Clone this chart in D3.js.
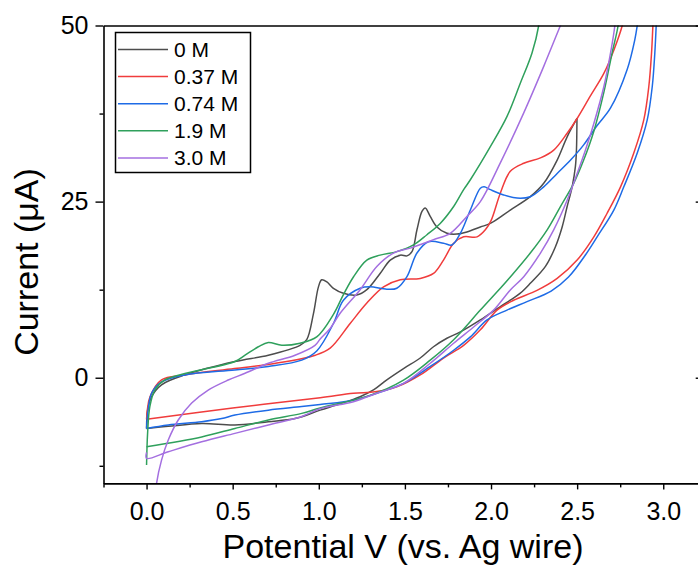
<!DOCTYPE html>
<html>
<head>
<meta charset="utf-8">
<script src="https://cdn.jsdelivr.net/npm/d3@7"></script>
<style>
  body { margin: 0; background: #fff; }
  text { font-family: "Liberation Sans", Arial, sans-serif; fill: #000; }
</style>
</head>
<body>
<div id="chart"></div>
<script>
window.w = 698;
window.h = 569;

// legend labels and colours
const labels = ["0 M", "0.37 M", "0.74 M", "1.9 M", "3.0 M"];
const colors = ["#4d4d4d", "#f03c3c", "#1e6be6", "#2fa05c", "#a46fe0"];

// each series: upper (forward, with peaks) and lower branch, [V, uA]
const gray_up = [[0,-7.2],[0.006,-4.6],[0.029,-2.7],[0.087,-1.0],[0.223,0.4],[0.513,2.3],[0.707,3.2],[0.891,4.6],[0.93,5.4],[0.969,9.1],[0.998,12.9],[1.017,13.9],[1.047,13.6],[1.085,12.7],[1.143,12.0],[1.221,11.75],[1.279,12.5],[1.356,14.8],[1.415,16.7],[1.473,17.4],[1.512,17.3],[1.541,17.9],[1.57,21.0],[1.599,23.6],[1.618,24.1],[1.647,22.9],[1.686,21.4],[1.744,20.5],[1.802,20.4],[1.86,20.7],[1.938,21.4],[1.996,21.9],[2.112,23.8],[2.228,25.7],[2.306,27.6],[2.384,30.9],[2.442,34.2],[2.499,36.8]];
const gray_low = [[0,-7.2],[0.126,-6.9],[0.32,-6.5],[0.513,-6.7],[0.707,-6.25],[0.862,-5.8],[1.008,-4.6],[1.124,-3.7],[1.24,-2.7],[1.32,-1.7],[1.395,-0.3],[1.492,1.3],[1.589,2.8],[1.666,4.4],[1.744,5.6],[1.822,6.5],[1.938,8.2],[2.054,10.1],[2.112,11.0],[2.17,12.0],[2.228,13.4],[2.316,15.8],[2.374,18.6],[2.413,21.4],[2.442,24.3],[2.471,27.1],[2.49,30.0],[2.496,32.3],[2.499,36.8]];

const red_up = [[0,-5.9],[0.005,-4.5],[0.02,-2.7],[0.087,-0.3],[0.22,0.4],[0.51,1.3],[0.75,2.05],[0.98,3.2],[1.066,4.2],[1.182,7.7],[1.279,10.6],[1.376,12.9],[1.473,13.9],[1.589,14.1],[1.666,14.8],[1.724,16.7],[1.783,19.1],[1.841,20.0],[1.919,20.0],[1.967,21.0],[2.0,22.3],[2.054,26.2],[2.112,29.3],[2.19,30.45],[2.287,31.2],[2.364,32.3],[2.442,34.7],[2.5,36.8],[2.577,40.0],[2.655,43.2],[2.713,46.5],[2.762,50],[2.77,51]];
const red_low = [[0,-5.9],[0.5,-4.3],[1.008,-2.84],[1.201,-2.2],[1.327,-2.0],[1.453,-1.3],[1.589,0.4],[1.724,2.8],[1.841,4.6],[1.938,6.8],[2.035,9.6],[2.131,11.0],[2.267,12.4],[2.384,14.1],[2.5,16.7],[2.597,20.0],[2.674,23.35],[2.752,27.1],[2.829,31.9],[2.887,36.6],[2.916,41.3],[2.932,46.1],[2.94,50],[2.945,52]];

const blue_up = [[0,-7.2],[0.009,-4.6],[0.029,-2.2],[0.087,-0.6],[0.223,0.4],[0.513,1.1],[0.707,1.6],[0.901,2.5],[0.988,3.8],[1.085,7.7],[1.143,11.0],[1.24,12.7],[1.298,12.9],[1.395,12.56],[1.453,12.7],[1.512,14.35],[1.57,17.7],[1.637,19.3],[1.724,19.1],[1.773,18.85],[1.822,20.5],[1.88,23.8],[1.938,26.9],[1.96,27.1],[1.996,26.7],[2.073,25.95],[2.151,25.5],[2.228,25.7],[2.306,27.1],[2.384,29.0],[2.462,30.9],[2.538,33.05],[2.616,35.8],[2.694,38.3],[2.791,43.8],[2.835,48],[2.849,50],[2.86,52]];
const blue_low = [[0,-7.2],[0.126,-6.7],[0.32,-6.25],[0.436,-5.8],[0.513,-5.3],[0.707,-4.6],[0.901,-4.1],[1.008,-3.8],[1.201,-3.2],[1.337,-2.2],[1.492,-0.8],[1.647,1.6],[1.783,3.9],[1.88,5.8],[1.977,8.2],[2.093,9.6],[2.209,10.8],[2.349,12.3],[2.45,14.3],[2.55,17.5],[2.616,20.0],[2.713,23.8],[2.771,27.1],[2.849,31.9],[2.907,36.6],[2.936,41.3],[2.951,46.1],[2.959,50],[2.962,52]];

const green_up = [[0,-12.4],[0.006,-7.9],[0.019,-4.1],[0.048,-1.75],[0.106,-0.3],[0.223,0.6],[0.513,2.3],[0.572,3.2],[0.649,4.4],[0.707,5.0],[0.785,4.6],[0.891,4.9],[0.988,5.8],[1.085,9.0],[1.143,11.8],[1.201,14.3],[1.279,16.7],[1.356,17.4],[1.453,17.9],[1.55,18.85],[1.628,20.3],[1.705,21.9],[1.783,24.3],[1.841,26.7],[1.88,28.1],[1.996,32.8],[2.093,37.1],[2.17,41.8],[2.238,46.1],[2.277,50],[2.285,52]];
const green_low = [[0,-9.8],[0.32,-8.4],[0.513,-7.2],[0.707,-6.0],[0.901,-5.06],[1.008,-4.3],[1.298,-2.5],[1.492,-0.33],[1.647,2.5],[1.783,5.4],[1.938,9.6],[2.054,12.7],[2.112,14.3],[2.228,17.7],[2.326,21.0],[2.403,24.3],[2.48,27.6],[2.538,30.9],[2.597,35.0],[2.655,40.5],[2.703,46.1],[2.738,50],[2.745,52]];

const purple_up = [[0.05,-17],[0.058,-15],[0.087,-11.7],[0.126,-8.85],[0.184,-6.0],[0.262,-3.6],[0.358,-1.75],[0.474,-0.33],[0.572,0.63],[0.707,2.05],[0.862,3.2],[0.978,4.6],[1.008,5.5],[1.066,7.0],[1.124,9.15],[1.24,12.5],[1.337,15.8],[1.434,17.7],[1.531,18.4],[1.666,19.6],[1.763,20.5],[1.86,22.9],[1.938,25.0],[2.054,30.5],[2.19,37.6],[2.306,44.2],[2.403,50],[2.42,51]];
const purple_low = [[0,-10.6],[0,-11.45],[0.126,-10.5],[0.32,-9.1],[0.513,-7.9],[0.707,-6.7],[0.901,-5.5],[1.008,-4.4],[1.201,-3.4],[1.337,-2.2],[1.492,-0.8],[1.647,2.05],[1.783,4.9],[1.899,7.2],[2.015,9.6],[2.112,12.46],[2.19,14.35],[2.287,17.7],[2.364,21.0],[2.442,25.2],[2.5,29.0],[2.548,32.3],[2.597,36.1],[2.655,41.3],[2.694,46.1],[2.719,50],[2.725,52]];

const series = [
  [gray_up, gray_low],
  [red_up, red_low],
  [blue_up, blue_low],
  [green_up, green_low],
  [purple_up, purple_low]
];

const xMajor = [0, 0.5, 1, 1.5, 2, 2.5, 3];
const xMinor = [-0.25, 0.25, 0.75, 1.25, 1.75, 2.25, 2.75];
const yMajor = [0, 25, 50];
const yMinor = [-12.5, 12.5, 37.5];

const svg = d3.select("#chart")
  .append("svg")
  .attr("width", w)
  .attr("height", h);

const xScale = d3.scaleLinear().domain([-0.25, 3.2]).range([103.5, 697.7]);
const yScale = d3.scaleLinear().domain([-15, 50]).range([483.4, 25.5]);

svg.append("clipPath").attr("id", "plotclip")
  .append("rect")
  .attr("x", xScale.range()[0])
  .attr("y", yScale.range()[1])
  .attr("width", xScale.range()[1] - xScale.range()[0] + 5)
  .attr("height", yScale.range()[0] - yScale.range()[1]);

const line = d3.line()
  .x(d => xScale(d[0]))
  .y(d => yScale(d[1]))
  .curve(d3.curveCatmullRom.alpha(0.5));

const plot = svg.append("g").attr("clip-path", "url(#plotclip)");
series.forEach((branches, i) => {
  branches.forEach(b => {
    plot.append("path")
      .datum(b)
      .attr("fill", "none")
      .attr("stroke", colors[i])
      .attr("stroke-width", 1.5)
      .attr("stroke-linejoin", "round")
      .attr("d", line);
  });
});

// axes
const x0 = xScale.range()[0], x1 = xScale.range()[1];
const yb = yScale.range()[0], yt = yScale.range()[1];

function styleAxis(g, fs) {
  g.selectAll("path.domain").attr("stroke", "#000").attr("stroke-width", 1.6);
  g.selectAll(".tick line").attr("stroke", "#000").attr("stroke-width", 1.4);
  g.selectAll(".tick text").style("font-size", fs + "px").attr("font-family", "Liberation Sans, Arial, sans-serif");
}

svg.append("g")
  .attr("transform", "translate(0," + yb + ")")
  .call(d3.axisBottom(xScale).tickValues(xMinor).tickSize(4).tickFormat(""))
  .call(g => g.select(".domain").remove())
  .call(g => styleAxis(g, 25));

svg.append("g")
  .attr("transform", "translate(0," + yb + ")")
  .call(d3.axisBottom(xScale).tickValues(xMajor).tickSize(6).tickSizeOuter(0).tickPadding(13).tickFormat(d3.format(".1f")))
  .call(g => styleAxis(g, 25));

svg.append("g")
  .attr("transform", "translate(" + x0 + ",0)")
  .call(d3.axisLeft(yScale).tickValues(yMinor).tickSize(4).tickFormat(""))
  .call(g => g.select(".domain").remove())
  .call(g => styleAxis(g, 25));

svg.append("g")
  .attr("transform", "translate(" + x0 + ",0)")
  .call(d3.axisLeft(yScale).tickValues(yMajor).tickSize(8).tickSizeOuter(0).tickPadding(7))
  .call(g => styleAxis(g, 25));

svg.append("g")
  .attr("transform", "translate(0," + yt + ")")
  .call(d3.axisTop(xScale).tickValues([]).tickSizeOuter(0))
  .call(g => styleAxis(g, 25));

svg.append("g")
  .attr("transform", "translate(" + (x1 + 2) + ",0)")
  .call(d3.axisLeft(yScale).tickValues(yMajor).tickSize(4).tickSizeOuter(0).tickFormat(""))
  .call(g => styleAxis(g, 25));

// titles
svg.append("text")
  .attr("x", 403)
  .attr("y", 558)
  .attr("text-anchor", "middle")
  .style("font-size", "34px")
  .text("Potential V (vs. Ag wire)");

svg.append("text")
  .attr("transform", "translate(38,262) rotate(-90)")
  .attr("text-anchor", "middle")
  .style("font-size", "34px")
  .text("Current (\u03bcA)");

// legend
const legend = svg.append("g");
legend.append("rect")
  .attr("x", 115.5).attr("y", 32.5)
  .attr("width", 135).attr("height", 140)
  .attr("fill", "#fff")
  .attr("stroke", "#000")
  .attr("stroke-width", 1.5);

labels.forEach((lab, i) => {
  const yy = 49.5 + i * 27.1;
  legend.append("line")
    .attr("x1", 118).attr("x2", 168)
    .attr("y1", yy).attr("y2", yy)
    .attr("stroke", colors[i])
    .attr("stroke-width", 1.5);
  legend.append("text")
    .attr("x", 174).attr("y", yy)
    .attr("dy", "0.36em")
    .style("font-size", "21px")
    .text(lab);
});
</script>
</body>
</html>
